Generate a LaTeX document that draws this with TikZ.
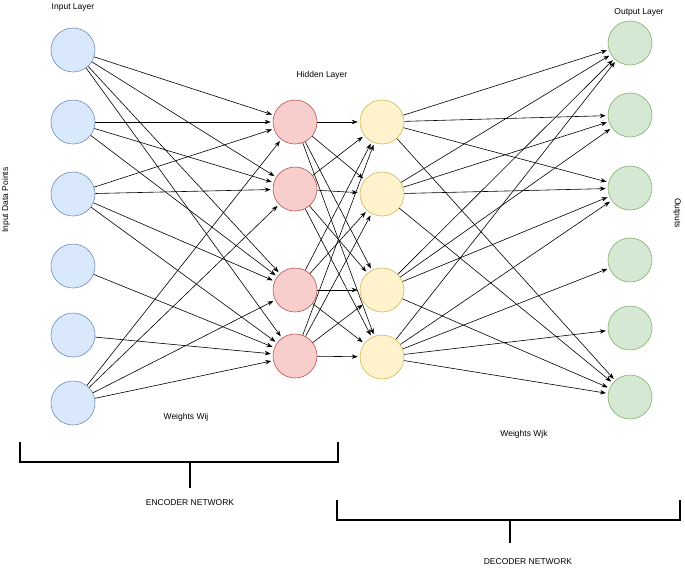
\documentclass[tikz,border=0pt]{standalone}
\usepackage{fontspec}
\setmainfont{Liberation Sans}
\usetikzlibrary{arrows.meta}
\begin{document}
\begin{tikzpicture}[x=1pt,y=-1pt,
 n/.style={circle,minimum size=44pt,inner sep=0pt,line width=0.6pt},
 bl/.style={n,fill={rgb,255:red,218;green,232;blue,252},draw={rgb,255:red,108;green,142;blue,191}},
 rd/.style={n,fill={rgb,255:red,248;green,206;blue,204},draw={rgb,255:red,184;green,84;blue,80}},
 ye/.style={n,fill={rgb,255:red,255;green,242;blue,204},draw={rgb,255:red,214;green,182;blue,86}},
 gr/.style={n,fill={rgb,255:red,213;green,232;blue,212},draw={rgb,255:red,130;green,179;blue,102}},
 e/.style={-{Stealth[length=6pt,width=4.5pt]},line width=0.6pt,shorten >=2pt},
 l/.style={font=\fontsize{8.5}{10}\selectfont},
 br/.style={line width=1.2pt}]
\useasboundingbox (0,0) rectangle (685,568);
\foreach \i/\y in {1/50,2/122,3/194,4/266,5/335,6/403} \node[bl] (b\i) at (73,\y) {};
\foreach \i/\y in {1/122,2/189,3/290,4/356} \node[rd] (r\i) at (295,\y) {};
\foreach \i/\y in {1/122,2/194,3/290,4/357} \node[ye] (y\i) at (382,\y) {};
\foreach \i/\y in {1/43,2/115,3/188,4/260,5/328,6/397} \node[gr] (g\i) at (630,\y) {};
% encoder
\foreach \a/\b in {1/1,1/2,1/3,1/4,2/1,2/2,2/3,3/1,3/2,3/3,3/4,4/4,5/4,6/1,6/2,6/3,6/4}
  \draw[e] (b\a) -- (r\b);
\foreach \a in {1,...,4} \foreach \b in {1,...,4} \draw[e] (r\a) -- (y\b);
% decoder
\foreach \a/\b in {1/1,1/2,1/3,1/6,2/1,2/2,2/3,2/6,3/1,3/2,3/3,3/6,4/1,4/3,4/4,4/5,4/6}
  \draw[e] (y\a) -- (g\b);
% labels
\node[l] (t1) at (73,7) {Input Layer};
\node[l] (t2) at (322,75) {Hidden Layer};
\node[l] (t3) at (639,12) {Output Layer};
\node[l,rotate=90] (t4) at (6,200) {Input Data Points};
\node[l,rotate=-90] (t5) at (677,213) {Outputs};
\node[l] (t6) at (186,417) {Weights Wij};
\node[l] (t7) at (524,434) {Weights Wjk};
\node[l] (t8) at (190,503) {ENCODER NETWORK};
\node[l] (t9) at (528,562) {DECODER NETWORK};
\draw[br] (20,442) -- (20,462) -- (338,462) -- (338,442);
\draw[br] (190,462) -- (190,488);
\draw[br] (337,500) -- (337,520) -- (680,520) -- (680,500);
\draw[br] (510,520) -- (510,543);
\end{tikzpicture}
\end{document}
